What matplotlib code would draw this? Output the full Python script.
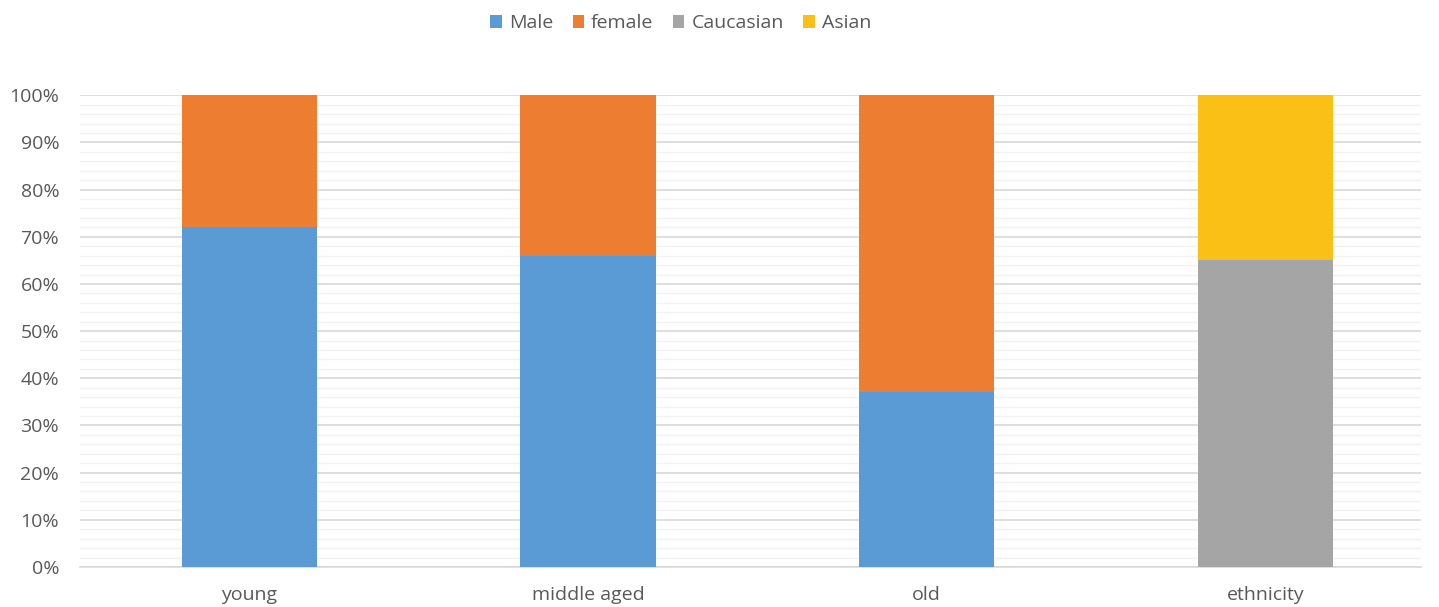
import numpy as np
import matplotlib.pyplot as plt
from matplotlib.ticker import MultipleLocator, PercentFormatter

plt.rcParams['font.family'] = ['Open Sans', 'DejaVu Sans']

# chart data (percent of each group)
categories = ["young", "middle aged", "old", "ethnicity"]
male = [72, 66, 37, 0]
female = [28, 34, 63, 0]
caucasian = [0, 0, 0, 65]
asian = [0, 0, 0, 35]

series = [
    ("Male", male, "#5B9BD5"),
    ("female", female, "#ED7D31"),
    ("Caucasian", caucasian, "#A5A5A5"),
    ("Asian", asian, "#FBC015"),
]

fig = plt.figure(figsize=(14.39, 6.07), dpi=100)
ax = fig.add_axes([0.0556, 0.066, 0.932, 0.777])

x = np.arange(len(categories))
bottom = np.zeros(len(categories))
for name, vals, color in series:
    vals = np.array(vals, dtype=float)
    ax.bar(x, vals, 0.40, bottom=bottom, color=color, label=name, zorder=3)
    bottom += vals

ax.set_xlim(-0.5, 3.46)
ax.set_ylim(0, 100)
ax.yaxis.set_major_locator(MultipleLocator(10))
ax.yaxis.set_minor_locator(MultipleLocator(2))
ax.yaxis.set_major_formatter(PercentFormatter(decimals=0))
ax.grid(axis="y", which="major", color="#D9D9D9", linewidth=1.2, zorder=0)
ax.grid(axis="y", which="minor", color="#F2F2F2", linewidth=1.0, zorder=0)

for s in ["top", "right", "left"]:
    ax.spines[s].set_visible(False)
ax.spines["bottom"].set_color("#D9D9D9")
ax.spines["bottom"].set_linewidth(1.2)

ax.set_xticks(x)
ax.set_xticklabels(categories)
ax.tick_params(axis="both", which="both", length=0, labelsize=14, labelcolor="#595959")
ax.tick_params(axis="x", pad=14)
ax.tick_params(axis="y", pad=15)

fig.legend(loc="upper center", bbox_to_anchor=(0.473, 1.005), ncol=4, frameon=False,
           fontsize=14, labelcolor="#595959", handlelength=0.6, handleheight=0.6,
           handletextpad=0.35, columnspacing=1.0)

fig.savefig("out.png", dpi=100)
